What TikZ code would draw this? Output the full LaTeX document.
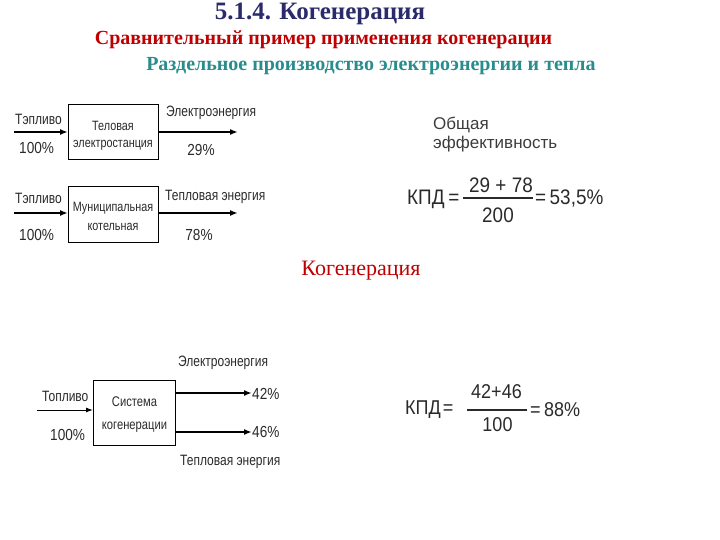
\documentclass[tikz,border=0pt]{standalone}
\usepackage{fontspec}
\setmainfont{Liberation Serif}
\newfontfamily\dsans[FakeStretch=0.8]{Liberation Sans}
\newfontfamily\psans[FakeStretch=0.85]{Liberation Sans}
\newfontfamily\fsans[FakeStretch=0.9]{Liberation Sans}
\newfontfamily\osans{Liberation Sans}
\usetikzlibrary{arrows.meta}
\definecolor{navy}{HTML}{2B2A6A}
\definecolor{redt}{HTML}{C00000}
\definecolor{tealt}{HTML}{2A8C8C}
\definecolor{grt}{HTML}{2A2A2A}
\definecolor{lgrt}{HTML}{3C3C3C}
\begin{document}
\begin{tikzpicture}[x=1pt,y=-1pt,
  boxline/.style={draw,line width=1pt},
  blk/.style={inner sep=0pt,align=center,text=grt,font=\dsans\fontsize{13.5}{19}\selectfont},
  lbl/.style={font=\dsans\fontsize{15}{17}\selectfont,inner sep=0pt,text=grt},
  pct/.style={font=\psans\fontsize{16}{18}\selectfont,inner sep=0pt,text=grt},
  arr/.style={-{Latex[length=8pt,width=6pt]},line width=1.6pt},
  thinarr/.style={-{Latex[length=7pt,width=5pt]},line width=1pt},
  frm/.style={font=\fsans\fontsize{21}{23}\selectfont,inner sep=0pt,text=grt},
  frmb/.style={font=\fsans\fontsize{20}{22}\selectfont,inner sep=0pt,text=grt}]
\useasboundingbox (0,0) rectangle (720,540);
% titles
\node[font=\bfseries\fontsize{25}{27}\selectfont,text=navy] (t1) at (320,14) {5.1.4. Когенерация};
\node[font=\bfseries\fontsize{20}{22}\selectfont,text=redt] (t2) at (323.5,40) {Сравнительный пример применения когенерации};
\node[font=\bfseries\fontsize{20}{22}\selectfont,text=tealt] (t3) at (371,66) {Раздельное производство электроэнергии и тепла};
% diagram 1
\draw[boxline] (68,105) rectangle (158,160);
\node[blk] (b1a) at (113,126) {Теловая};
\node[blk] (b1b) at (113,145) {электростанция};
\coordinate (b1w) at (68,132);
\coordinate (b1e) at (158,132);
\coordinate (i1) at (14,132);
\coordinate (o1) at (238,132);
\draw[arr] (i1) -- (b1w);
\draw[arr] (b1e) -- (o1);
\node[lbl,anchor=west] (l1a) at (15,119) {Тэпливо};
\node[pct,anchor=west] (l1b) at (19,148) {100\%};
\node[lbl,anchor=west] (l1c) at (166,113) {Электроэнергия};
\node[pct] (l1d) at (201,150) {29\%};
% diagram 2
\draw[boxline] (68,187) rectangle (158,242);
\node[blk] (b2a) at (113,208.5) {Муниципальная};
\node[blk] (b2b) at (113,226.5) {котельная};
\coordinate (b2w) at (68,213);
\coordinate (b2e) at (158,213);
\coordinate (i2) at (14,213);
\coordinate (o2) at (238,213);
\draw[arr] (i2) -- (b2w);
\draw[arr] (b2e) -- (o2);
\node[lbl,anchor=west] (l2a) at (15,198.5) {Тэпливо};
\node[pct,anchor=west] (l2b) at (19,234.5) {100\%};
\node[lbl,anchor=west] (l2c) at (165,196.5) {Тепловая энергия};
\node[pct] (l2d) at (199,234.5) {78\%};
% efficiency 1
\node[font=\osans\fontsize{17}{19.5}\selectfont,text=lgrt,anchor=west,inner sep=0pt] (oe1) at (433,125) {Общая};
\node[font=\osans\fontsize{17}{19.5}\selectfont,text=lgrt,anchor=west,inner sep=0pt] (oe2) at (433,144.5) {эффективность};
\node[frm,anchor=west] (k1) at (407,199) {КПД};
\node[frm] (e1) at (454,199) {=};
\node[frm] (n1) at (501,185) {29 + 78};
\node[frm] (d1) at (498,215) {200};
\coordinate (fl1) at (463,198);
\coordinate (fr1) at (533,198);
\draw[line width=1.2pt,grt] (fl1) -- (fr1);
\node[frm,anchor=west] (r1) at (535,199) {=\,53,5\%};
% cogeneration
\node[font=\fontsize{22}{24}\selectfont,text=redt] (t4) at (361,271) {Когенерация};
% diagram 3
\draw[boxline] (93,380) rectangle (175,445);
\node[blk,font=\dsans\fontsize{14}{19}\selectfont] (b3a) at (134.5,401.5) {Система};
\node[blk,font=\dsans\fontsize{14}{19}\selectfont] (b3b) at (134.5,427.5) {когенерации};
\coordinate (b3w) at (93,410);
\coordinate (i3) at (37,410);
\draw[thinarr] (i3) -- (b3w);
\node[pct,anchor=west] (l3p) at (252,394) {42\%};
\node[pct,anchor=west] (l3q) at (252,431.5) {46\%};
\coordinate (b3e1) at (175,393);
\coordinate (b3e2) at (175,432);
\draw[arr,line width=2pt] (b3e1) -- (l3p.west|-b3e1);
\draw[arr,line width=2pt] (b3e2) -- (l3q.west|-b3e2);
\node[lbl,anchor=west] (l3a) at (42,396.5) {Топливо};
\node[pct,anchor=west] (l3b) at (50,434.5) {100\%};
\node[lbl,anchor=west] (l3c) at (178,363) {Электроэнергия};
\node[lbl,anchor=west] (l3d) at (180,461.5) {Тепловая энергия};
% efficiency 2
\node[frmb,anchor=west] (k2) at (405,409.5) {КПД};
\node[frmb] (e2) at (448,409.5) {=};
\node[frmb] (n2) at (496.5,391.5) {42+46};
\node[frmb] (d2) at (497.5,425) {100};
\coordinate (fl2) at (467,410);
\coordinate (fr2) at (527,410);
\draw[line width=1.2pt,grt] (fl2) -- (fr2);
\node[frmb,anchor=west] (r2) at (530,409.5) {=\,88\%};
\end{tikzpicture}
\end{document}
